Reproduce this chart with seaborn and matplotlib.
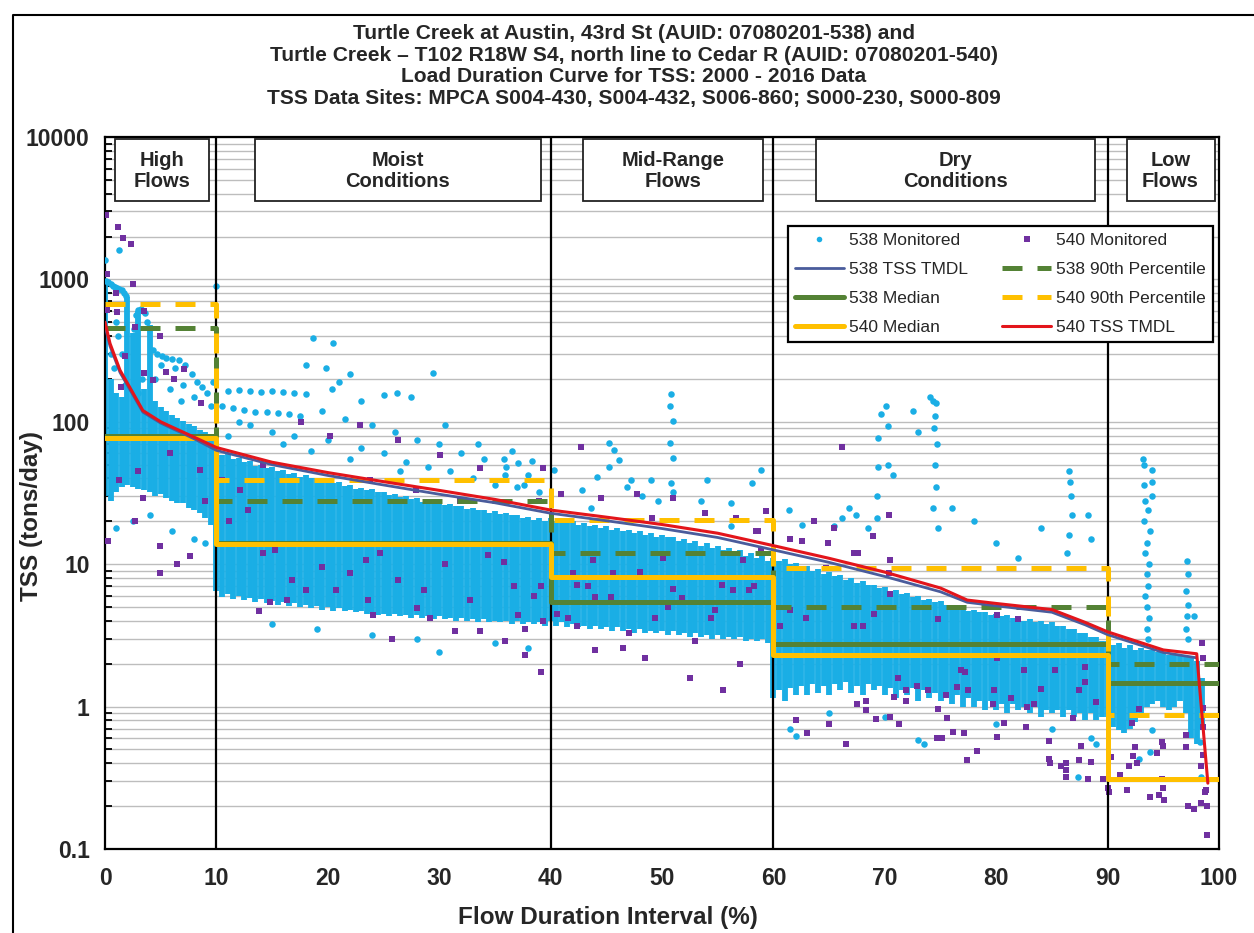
import matplotlib
matplotlib.use("Agg")
import matplotlib.pyplot as plt
import matplotlib.ticker as mticker
from matplotlib.lines import Line2D
from matplotlib.patches import Rectangle
import matplotlib.transforms as mtransforms
import pandas as pd
import seaborn as sns

# ---------------------------------------------------------------- data
regime_edges = [0, 10, 40, 60, 90, 100]
regime_names = ["High\nFlows", "Moist\nConditions", "Mid-Range\nFlows",
                "Dry\nConditions", "Low\nFlows"]

# median / 90th percentile loads per flow regime (tons/day)
median_538 = [80, 14.2, 5.4, 2.75, 1.47]
p90_538 = [457, 28, 12.0, 5.0, 2.0]
median_540 = [77, 13.8, 8.1, 2.3, 0.31]
p90_540 = [670, 39, 20.4, 9.4, 0.87]

# TMDL load duration curves
tmdl_538_x = [0, 0.45, 1.35, 2.5, 3.4, 5, 6, 8, 10, 15, 20, 25, 30, 35, 40,
              45, 50, 55, 60, 65, 70, 75, 77.4, 80, 85, 88, 90, 95, 98]
tmdl_538 = [470, 340, 222, 155, 117, 98, 90, 76, 63, 50, 42, 36, 31, 27, 22.8,
            20.2, 17.8, 15.4, 12.6, 10.3, 8.2, 6.4, 5.4, 5.1, 4.6, 3.75, 3.2,
            2.4, 2.2]
tmdl_540_x = [0, 0.45, 1.35, 2.5, 3.4, 5, 6, 8, 10, 15, 20, 25, 30, 35, 40,
              45, 50, 55, 60, 65, 70, 75, 77.4, 80, 85, 88, 90, 95, 98, 99]
tmdl_540 = [500, 355, 230, 160, 120, 100, 92, 78, 66, 52, 44, 38, 33, 28.5,
            24, 21.4, 19, 16.5, 13.5, 11, 8.8, 6.8, 5.6, 5.3, 4.8, 3.9, 3.35,
            2.5, 2.35, 0.29]

# dense core of the 538 daily record: low / high load in each 0.5 % column
core_x = [i / 2 for i in range(198)]
core_lo = [
    30, 28, 32, 35, 36, 35, 34, 33, 32, 30, 31, 29, 28, 27, 27, 25, 24, 23, 21, 19,
    6.5, 5.9, 6.2, 5.7, 6.0, 5.6, 5.8, 5.4, 5.7, 5.3, 5.5, 5.2, 5.4, 5.1, 5.3, 5.0,
    5.2, 4.9, 5.1, 4.8, 5.0, 4.7, 4.9, 4.7, 4.8, 4.6, 4.7, 4.5, 4.6, 4.4, 4.5, 4.3,
    4.5, 4.3, 4.4, 4.2, 4.4, 4.2, 4.3, 4.1, 4.3, 4.1, 4.2, 4.0, 4.2, 4.0, 4.1, 3.9,
    4.1, 3.9, 4.0, 3.9, 4.0, 3.8, 4.0, 3.8, 3.9, 3.8, 3.9, 3.7,
    4.0, 3.7, 3.9, 3.6, 3.8, 3.6, 3.7, 3.5, 3.7, 3.5, 3.6, 3.4, 3.6, 3.4, 3.5, 3.3,
    3.5, 3.3, 3.4, 3.3, 3.4, 3.2, 3.4, 3.2, 3.3, 3.1, 3.3, 3.1, 3.2, 3.0, 3.2, 3.0,
    3.1, 3.0, 3.1, 2.9, 3.0, 2.9, 3.0, 2.8,
    1.15, 1.3, 1.1, 1.35, 1.2, 1.4, 1.2, 1.45, 1.25, 1.4, 1.2, 1.45, 1.3, 1.5, 1.25,
    1.4, 1.2, 1.45, 1.3, 1.4, 1.2, 1.35, 1.15, 1.3, 1.2, 1.35, 1.1, 1.3, 1.15, 1.25,
    1.1, 1.2, 1.05, 1.2, 1.0, 1.15, 1.0, 1.1, 0.95, 1.1, 0.95, 1.05, 0.9, 1.05,
    0.95, 1.0, 0.9, 1.0, 0.85, 0.95, 0.9, 0.95, 0.85, 0.95, 0.85, 0.9, 0.8, 0.9,
    0.8, 0.85,
    0.85, 0.72, 0.68, 0.65, 0.7, 0.78, 0.9, 1.0, 1.05, 1.1, 1.0, 0.95, 1.0, 1.1,
    0.9, 0.6, 0.55, 0.7]
core_hi = [
    1000, 200, 160, 150, 750, 420, 600, 170, 480, 140, 128, 120, 112, 106, 102, 96,
    93, 88, 85, 80,
    62, 58, 60, 55, 56, 52, 53, 49, 50, 47, 48, 45, 46, 43, 44, 41, 42, 40, 40.5,
    38, 39, 37, 37.5, 35.5, 36, 34, 34.5, 33, 33.5, 32, 32, 30.5, 31, 29.5, 30,
    28.5, 29, 27.5, 28, 27, 27.5, 26, 26.5, 25.5, 25.5, 24.5, 25, 24, 24, 23,
    23.5, 22.5, 23, 22, 22, 21, 21.5, 20.5, 21, 20,
    21, 20, 20.5, 19.5, 20, 19, 19.5, 18.5, 19, 18, 18.5, 17.5, 18, 17, 17.5, 16.5,
    17, 16, 16.5, 15.5, 16, 15.5, 15.5, 14.5, 15, 14, 14.5, 13.5, 14, 13, 13.5,
    12.5, 13, 12, 12.5, 11.5, 12, 11, 11.5, 10.5,
    11, 10.5, 10.8, 10, 10.2, 9.5, 9.7, 9.0, 9.2, 8.6, 8.8, 8.2, 8.4, 7.8, 8.0,
    7.4, 7.6, 7.1, 7.2, 6.8, 6.9, 6.5, 6.6, 6.2, 6.3, 5.9, 6.0, 5.6, 5.7, 5.4,
    5.5, 5.2, 5.2, 5.0, 5.0, 4.7, 4.8, 4.6, 4.6, 4.4, 4.5, 4.3, 4.4, 4.2, 4.2,
    4.0, 4.1, 3.9, 4.0, 3.8, 3.9, 3.7, 3.7, 3.5, 3.5, 3.3, 3.3, 3.1, 3.1, 2.9,
    2.9, 2.7, 2.8, 2.6, 2.7, 2.5, 2.6, 2.5, 2.5, 2.4, 2.4, 2.3, 2.3, 2.25, 2.25,
    2.2, 2.1, 1.6]

# individual 538 observations outside the dense core
obs538_x = [
    0.0, 1.26, 0.1, 0.3, 0.5, 0.7, 0.9, 1.1, 1.3, 1.5, 1.7, 1.9, 2.6, 2.8, 3.0,
    3.2, 3.4, 3.6, 3.8, 4.3, 4.7, 5.1, 5.5, 6.0, 6.6, 7.2, 7.8, 8.3, 8.7, 9.7,
    9.2, 6.3, 5.0, 4.5, 7.0, 8.0, 9.5, 0.5, 0.8, 1.2, 1.0, 1.5, 3.3, 2.8, 1.8,
    3.0, 5.8, 6.8, 10.0, 1.0, 2.5, 4.0, 6.0, 8.0, 9.0,
    11, 12, 13, 14, 15, 16, 17, 18, 10.5, 11.5, 12.5, 13.5, 14.5, 15.5, 16.5,
    17.5, 18.7, 20.5, 18, 19.8, 22, 21, 25, 20.4, 29.4, 26.2, 27.5, 23, 19.5,
    21.5, 24, 26, 28, 30, 32, 34, 36, 38, 13, 15, 17, 12, 20, 23, 25, 27, 29,
    31, 33, 35, 37, 39, 30.5, 33.5, 36.5, 16, 18.5, 11, 22, 26.5, 30, 28, 24,
    19, 35, 38, 15,
    35.8, 37.1, 38.3, 35.9, 37.6, 40.3, 42.8, 43.6, 44.2, 45.2, 45.7, 46.1, 45.2,
    47.2, 46.9, 48.2, 49.0, 49.6, 50.8, 50.7, 51.0, 50.7, 51.0, 50.8, 51.0, 53.5,
    54.0, 56.2, 58.1, 58.9, 56.2,
    61.4, 62.6, 66.2, 66.8, 67.4, 68.5, 69.3, 69.4, 69.4, 69.7, 70.1, 70.3, 70.3,
    70.7, 69.3, 65.4, 74.1, 74.3, 74.6, 74.5, 74.4, 74.7, 74.5, 74.6, 74.3, 74.8,
    72.5, 73.0, 86.5, 86.6, 86.7, 86.8, 86.5, 86.4, 88.2, 88.5, 84, 80, 78, 76,
    82, 97.8,
    73, 73.5, 87.3, 62, 61.5, 80, 85, 88.5, 89, 65, 70,
    93.2, 93.3, 94.0, 93.3, 94.0, 94.0, 93.4, 93.6, 93.3, 93.8, 93.5, 93.4, 93.7,
    93.5, 93.6, 93.4, 93.5, 93.7, 93.5, 93.6, 97.1, 97.2, 97.0, 97.2, 97.1, 97.0,
    97.2, 92.8, 94.0, 93.8, 98.4, 98.3]
obs538_y = [
    1370, 1620, 980, 960, 930, 900, 880, 870, 860, 840, 800, 760, 450, 560, 610,
    620, 600, 580, 500, 320, 300, 290, 280, 278, 270, 250, 215, 190, 175, 190,
    160, 240, 250, 200, 180, 150, 130, 300, 240, 400, 500, 300, 200, 250, 180,
    160, 170, 140, 900, 18, 20, 22, 17, 15, 14,
    165, 168, 165, 163, 165, 163, 160, 158, 130, 125, 122, 118, 117, 115, 113,
    110, 390, 355, 250, 240, 215, 190, 155, 170, 220, 160, 150, 140, 120, 105,
    95, 85, 75, 70, 60, 55, 48, 42, 95, 85, 80, 100, 75, 65, 60, 52, 48, 45, 40,
    36, 35, 32, 95, 70, 62, 70, 62, 80, 55, 45, 2.4, 3.0, 3.2, 3.5, 2.8, 2.6,
    3.8,
    55, 51, 53, 42, 36, 46, 33, 25, 41, 71, 63, 54, 48, 39, 35, 30, 39, 28, 158,
    130, 102, 71, 56, 37, 32, 28, 39, 27, 37, 46, 18.5,
    24, 19, 21, 25, 22, 18, 30, 48, 77, 114, 130, 93, 50, 42, 21, 18.5, 150, 140,
    135, 110, 90, 70, 50, 35, 25, 18, 120, 85, 45, 38, 30, 22, 16, 12, 22, 15,
    18, 14, 20, 25, 11, 4.3,
    0.58, 0.55, 0.32, 0.62, 0.7, 0.75, 0.7, 0.6, 0.55, 0.9, 0.85,
    55, 50, 46, 36, 38, 30, 28, 24, 20, 17, 14, 12, 10, 8.5, 7, 6, 5, 4.2, 3.5,
    3.0, 10.5, 8.5, 6.5, 5.2, 4.3, 3.5, 3.0, 0.43, 0.68, 0.48, 0.32, 0.56]

# 540 observations
obs540_x = [
    0.1, 1.2, 1.6, 2.3, 2.5, 0.2, 1.0, 1.1, 0.2, 3.5, 2.7, 4.9, 1.8, 7.1, 5.5,
    6.2, 3.5, 1.4, 4.3, 8.6, 4.9, 2.7, 3.4, 4.9, 0.3, 6.5, 7.6, 8.5, 1.3, 9.0,
    5.8, 3.0,
    13.8, 14.8, 16.3, 23.6, 24.1, 25.8, 28.0, 17.6, 11.1, 14.2, 16.8, 22.0, 23.4,
    20.7, 18.0, 24.7, 26.3, 28.6, 30.5, 32.8, 34.4, 33.7, 31.4, 29.2, 33.7, 30.1,
    26.3, 22.9, 20.2, 14.2, 12.1, 10.5, 23.8, 27.9, 31.9, 15.3, 19.5, 12.8,
    35.8, 36.7, 39.1, 37.1, 39.3, 37.7, 39.1, 35.9, 37.7, 39.3, 39.0, 38.5,
    40.6, 41.6, 42.4, 43.8, 42.0, 42.4, 44.0, 43.4, 45.4, 45.6, 48.0, 49.4, 50.1,
    50.5, 51.0, 51.8, 54.4, 54.8, 55.4, 56.4, 57.3, 57.8, 58.3, 58.6, 58.9, 42.7,
    40.9, 44.5, 47.8, 49.1, 51.0, 53.9, 56.6, 58.4, 59.3, 46.5, 48.5, 52.5, 53.0,
    55.5, 57.0, 47.0, 44.0,
    60.6, 61.5, 62.9, 64.7, 67.2, 68.0, 69.0, 70.4, 70.5, 67.2, 61.5, 62.6, 63.6,
    65.4, 64.9, 67.6, 68.9, 70.4, 70.5, 66.2,
    68.3, 68.3, 67.5, 69.2, 70.5, 71.3, 70.8, 71.9, 71.9, 71.2, 72.9, 73.9, 74.8,
    74.7, 75.1, 75.6, 76.1, 75.5, 76.5, 77.1, 77.4, 78.3, 77.5, 76.8, 77.2, 79.8,
    79.7, 80.1, 80.7, 80.1, 81.3, 82.5, 83.4, 82.8, 82.7, 84.0, 84.7, 84.7, 84.8,
    85.8, 86.3, 86.3, 86.3, 87.4, 87.6, 88.0, 88.0, 88.2, 88.5, 89.0, 89.6, 85.3,
    87.4, 86.9, 80.1, 82.0, 74.8, 62.0, 63.0, 65.0, 66.5,
    90.0, 90.1, 90.3, 91.1, 91.7, 91.9, 92.3, 92.5, 92.6, 92.8, 92.2, 93.8, 94.4,
    94.6, 94.9, 95.0, 94.9, 95.0, 95.1, 97.0, 97.0, 97.2, 97.8, 98.4, 98.9, 98.9,
    98.7, 98.8, 98.4, 98.6, 98.6, 98.5, 98.6, 98.6]
obs540_y = [
    2830, 2330, 1960, 1780, 930, 1100, 800, 590, 610, 600, 460, 400, 290, 235,
    225, 200, 220, 175, 195, 135, 13.5, 20, 29, 8.7, 14.5, 10, 11.5, 46, 39, 28,
    60, 45,
    4.7, 5.4, 5.6, 5.6, 4.4, 3.0, 4.9, 100, 20, 12, 7.7, 8.7, 10.7, 6.6, 6.6, 12,
    7.7, 6.6, 10, 5.6, 11.6, 3.4, 3.4, 4.2, 47, 58, 75, 95, 80, 50, 33, 39, 39,
    33, 28, 12.5, 9.5, 24,
    10.4, 7, 7, 4.4, 4.0, 2.3, 1.75, 2.9, 3.5, 47, 28, 6.0,
    4.5, 4.2, 3.7, 10.7, 8.7, 7.2, 5.9, 7.0, 5.9, 8.7, 8.8, 4.2, 11, 5.0, 6.7,
    5.8, 4.2, 4.8, 7.2, 6.6, 10.7, 6.6, 7.0, 17, 12.5, 67, 31, 29, 31, 21, 29,
    23, 21, 17, 23.6, 2.6, 2.2, 1.6, 2.9, 1.3, 2.0, 3.3, 2.5,
    3.7, 4.8, 4.2, 9.4, 3.7, 3.7, 4.5, 8.7, 6.2, 12, 15, 14.5, 20, 18, 14, 12,
    15.7, 22, 10.7, 66,
    1.1, 0.95, 1.05, 0.82, 0.85, 0.75, 1.17, 1.1, 1.3, 1.6, 1.4, 1.3, 0.96, 0.6,
    0.6, 0.83, 0.66, 1.2, 1.38, 0.65, 0.42, 0.49, 1.3, 1.8, 1.75, 1.3, 1.05, 0.61,
    0.77, 2.2, 1.15, 1.8, 1.05, 1.0, 0.72, 1.34, 0.57, 0.43, 0.4, 0.38, 0.4,
    0.36, 0.32, 0.42, 0.53, 1.48, 1.9, 0.31, 0.41, 1.07, 0.31, 1.8, 1.3, 0.83,
    4.4, 4.1, 4.1, 0.8, 0.65, 0.75, 0.55,
    0.27, 0.25, 0.44, 0.33, 0.26, 0.38, 0.45, 0.52, 0.4, 0.96, 0.77, 0.23, 0.47,
    0.24, 0.56, 0.53, 0.31, 0.27, 0.22, 0.63, 0.52, 0.2, 0.19, 0.21, 0.125, 0.2,
    0.25, 0.26, 0.38, 0.46, 0.72, 2.8, 2.2, 0.98]

# ---------------------------------------------------------------- style
CYAN = "#1aaee5"
PURPLE = "#7030a0"
GREEN = "#548235"
YELLOW = "#ffc000"
RED = "#e3151b"
SLATE = "#4a5c9c"

sns.set_theme(style="white")
plt.rcParams["font.family"] = ["Liberation Sans", "DejaVu Sans"]

fig = plt.figure(figsize=(12.54, 9.33), dpi=100)
ax = fig.add_axes([105 / 1254, 1 - 849 / 933, 1114 / 1254, 712 / 933])
ax.set_yscale("log")
ax.set_xlim(0, 100)
ax.set_ylim(0.1, 10000)

# grid: every major and minor decade line
ax.yaxis.set_major_locator(mticker.FixedLocator([0.1, 1, 10, 100, 1000, 10000]))
ax.yaxis.set_major_formatter(mticker.FixedFormatter(["0.1", "1", "10", "100", "1000", "10000"]))
ax.yaxis.set_minor_locator(mticker.LogLocator(base=10, subs=range(2, 10)))
ax.yaxis.set_minor_formatter(mticker.NullFormatter())
ax.xaxis.set_major_locator(mticker.MultipleLocator(10))
ax.grid(False)
ax.grid(True, which="both", axis="y", color="#bdbdbd", lw=1.0, zorder=0)
ax.set_axisbelow(True)

# dense core of the 538 record
ax.vlines(core_x, core_lo, core_hi, colors=CYAN, lw=4.2, zorder=2)

df538 = pd.DataFrame({"x": obs538_x, "y": obs538_y})
df540 = pd.DataFrame({"x": obs540_x, "y": obs540_y})
sns.scatterplot(data=df538, x="x", y="y", ax=ax, color=CYAN, marker="o",
                s=22, linewidth=0, zorder=3)
sns.scatterplot(data=df540, x="x", y="y", ax=ax, color=PURPLE, marker="s",
                s=16, linewidth=0, zorder=4)

# regime boundaries
for xv in regime_edges[1:-1]:
    ax.axvline(xv, color="black", lw=1.6, zorder=5)


def step_frame(vals):
    return pd.DataFrame({"x": regime_edges, "y": list(vals) + [vals[-1]]})


dash = (0, (4, 3))
sns.lineplot(data=step_frame(p90_538), x="x", y="y", ax=ax, color=GREEN,
             lw=3.6, linestyle=dash, drawstyle="steps-post", zorder=6)
sns.lineplot(data=step_frame(median_538), x="x", y="y", ax=ax, color=GREEN,
             lw=3.6, drawstyle="steps-post", zorder=6)
sns.lineplot(data=step_frame(p90_540), x="x", y="y", ax=ax, color=YELLOW,
             lw=3.6, linestyle=dash, drawstyle="steps-post", zorder=6)
sns.lineplot(data=step_frame(median_540), x="x", y="y", ax=ax, color=YELLOW,
             lw=3.6, drawstyle="steps-post", zorder=6)

sns.lineplot(x=tmdl_538_x, y=tmdl_538, ax=ax, color=SLATE, lw=2.0, zorder=7)
sns.lineplot(x=tmdl_540_x, y=tmdl_540, ax=ax, color=RED, lw=2.2, zorder=8)

# regime label boxes along the top of the plot
box_tr = mtransforms.blended_transform_factory(ax.transData, ax.transAxes)
box_spans = [(0.9, 9.3), (13.5, 39.1), (42.9, 59.1), (63.8, 88.9), (91.7, 99.6)]
for (x0, x1), name in zip(box_spans, regime_names):
    ax.add_patch(Rectangle((x0, 0.910), x1 - x0, 0.087, transform=box_tr,
                           facecolor="white", edgecolor="#222222", lw=1.3,
                           zorder=9))
    ax.text((x0 + x1) / 2, 0.952, name, transform=box_tr, ha="center",
            va="center", fontsize=14.5, fontweight="bold", linespacing=1.15,
            zorder=10)

# axes frame and ticks
for sp in ax.spines.values():
    sp.set_color("black")
    sp.set_linewidth(1.6)
ax.tick_params(axis="both", which="major", direction="out", length=7,
               width=1.6, color="black", labelsize=16.5, pad=6)
ax.tick_params(axis="y", which="major", pad=4)
ax.tick_params(axis="y", which="minor", direction="in", length=5, width=1.3,
               color="black", left=True)
ax.tick_params(axis="x", which="minor", bottom=False)
for lab in ax.get_xticklabels() + ax.get_yticklabels():
    lab.set_fontweight("bold")

ax.set_xlabel("Flow Duration Interval (%)", fontsize=17.5, fontweight="bold")
ax.set_ylabel("TSS (tons/day)", fontsize=17.5, fontweight="bold")
ax.xaxis.set_label_coords(0.4515, -0.080)
ax.yaxis.set_label_coords(-0.056, 0.468)

# legend, filled column by column
handles = [
    Line2D([], [], ls="none", marker="o", ms=4, color=CYAN, mew=0),
    Line2D([], [], color=SLATE, lw=2.0),
    Line2D([], [], color=GREEN, lw=3.6),
    Line2D([], [], color=YELLOW, lw=3.6),
    Line2D([], [], ls="none", marker="s", ms=4, color=PURPLE, mew=0),
    Line2D([], [], color=GREEN, lw=3.6, ls=dash),
    Line2D([], [], color=YELLOW, lw=3.6, ls=dash),
    Line2D([], [], color=RED, lw=2.2),
]
labels = ["538 Monitored", "538 TSS TMDL", "538 Median", "540 Median",
          "540 Monitored", "538 90th Percentile", "540 90th Percentile",
          "540 TSS TMDL"]
leg = ax.legend(handles, labels, ncol=2, loc="upper right",
                bbox_to_anchor=(0.9946, 0.875), borderaxespad=0,
                fontsize=12.5, frameon=True, fancybox=False,
                edgecolor="black", framealpha=1, handlelength=2.8,
                handletextpad=0.3, columnspacing=2.0, labelspacing=0.8,
                borderpad=0.4)
leg.get_frame().set_linewidth(1.6)
leg.set_zorder(11)

# chart title
fig.text(634 / 1254, 1 - 66 / 933,
         "Turtle Creek at Austin, 43rd St (AUID: 07080201-538) and\n"
         "Turtle Creek \u2013 T102 R18W S4, north line to Cedar R (AUID: 07080201-540)\n"
         "Load Duration Curve for TSS: 2000 - 2016 Data\n"
         "TSS Data Sites: MPCA S004-430, S004-432, S006-860; S000-230, S000-809",
         ha="center", va="center", fontsize=15.1, fontweight="bold",
         linespacing=1.18)

# outer frame
fig.add_artist(Line2D([13 / 1254, 13 / 1254, 1.0],
                      [0.0, 1 - 15 / 933, 1 - 15 / 933],
                      transform=fig.transFigure, color="black", lw=1.5))

fig.savefig("out.png", dpi=100, facecolor="white")
